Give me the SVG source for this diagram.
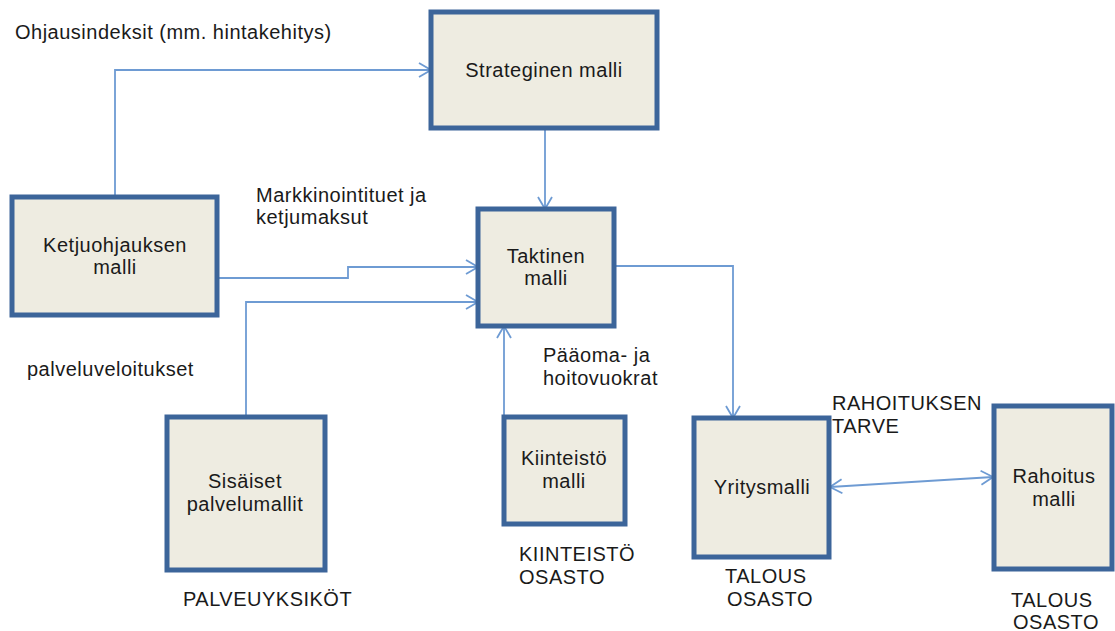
<svg xmlns="http://www.w3.org/2000/svg" width="1115" height="631" viewBox="0 0 1115 631">
<style>
.box{fill:#EEECE1;stroke:#3C659A;stroke-width:5}
.t{font-family:"Liberation Sans",Arial,sans-serif;font-size:20px;letter-spacing:0.5px;fill:#1a1a1a}
.c{text-anchor:middle}
.ln{fill:none;stroke:#6E9BD3;stroke-width:1.8}
</style>
<defs>
<marker id="arr" viewBox="0 0 14 16" refX="13" refY="8" markerWidth="14" markerHeight="16" markerUnits="userSpaceOnUse" orient="auto-start-reverse">
<path d="M1,1 L13,8 L1,15" fill="none" stroke="#6E9BD3" stroke-width="1.8"/>
</marker>
</defs>
<rect width="1115" height="631" fill="#ffffff"/>
<g id="connectors">
<path class="ln" d="M115,197 V70 H431" marker-end="url(#arr)"/>
<path class="ln" d="M545,128 V209" marker-end="url(#arr)"/>
<path class="ln" d="M217,278 H348 V267 H478" marker-end="url(#arr)"/>
<path class="ln" d="M246,417 V302 H478" marker-end="url(#arr)"/>
<path class="ln" d="M504,417 V326" marker-end="url(#arr)"/>
<path class="ln" d="M614,266 H733 V418" marker-end="url(#arr)"/>
<path class="ln" d="M830,487 L993,477" marker-start="url(#arr)" marker-end="url(#arr)"/>
</g>
<g id="labels">
<text class="t" x="15" y="39">Ohjausindeksit (mm. hintakehitys)</text>
<text class="t" x="256" y="202">Markkinointituet ja</text>
<text class="t" x="256" y="224">ketjumaksut</text>
<text class="t" x="27" y="376">palveluveloitukset</text>
<text class="t" x="543" y="362">Pääoma- ja</text>
<text class="t" x="543" y="385">hoitovuokrat</text>
<text class="t" x="832" y="410">RAHOITUKSEN</text>
<text class="t" x="832" y="433">TARVE</text>
<text class="t" x="519" y="561">KIINTEISTÖ</text>
<text class="t" x="519" y="584">OSASTO</text>
<text class="t" x="183" y="606">PALVEUYKSIKÖT</text>
<text class="t" x="725" y="583">TALOUS</text>
<text class="t" x="727" y="606">OSASTO</text>
<text class="t" x="1011" y="607">TALOUS</text>
<text class="t" x="1013" y="629">OSASTO</text>
</g>
<g id="strateginen">
<rect class="box" x="431" y="12" width="226" height="116"/>
<text class="t c" x="544" y="77">Strateginen malli</text>
</g>
<g id="ketjuohjauksen">
<rect class="box" x="12" y="197" width="205" height="118"/>
<text class="t c" x="115" y="252">Ketjuohjauksen</text>
<text class="t c" x="115" y="274">malli</text>
</g>
<g id="taktinen">
<rect class="box" x="478" y="209" width="136" height="117"/>
<text class="t c" x="546" y="263">Taktinen</text>
<text class="t c" x="546" y="285">malli</text>
</g>
<g id="sisaiset">
<rect class="box" x="167" y="417" width="158" height="153"/>
<text class="t c" x="245" y="488">Sisäiset</text>
<text class="t c" x="245" y="511">palvelumallit</text>
</g>
<g id="kiinteisto">
<rect class="box" x="504" y="417" width="121" height="107"/>
<text class="t c" x="564" y="465">Kiinteistö</text>
<text class="t c" x="564" y="488">malli</text>
</g>
<g id="yritysmalli">
<rect class="box" x="694" y="418" width="135" height="139"/>
<text class="t c" x="762" y="494">Yritysmalli</text>
</g>
<g id="rahoitus">
<rect class="box" x="994" y="406" width="118" height="163"/>
<text class="t c" x="1054" y="483">Rahoitus</text>
<text class="t c" x="1054" y="506">malli</text>
</g>
</svg>
